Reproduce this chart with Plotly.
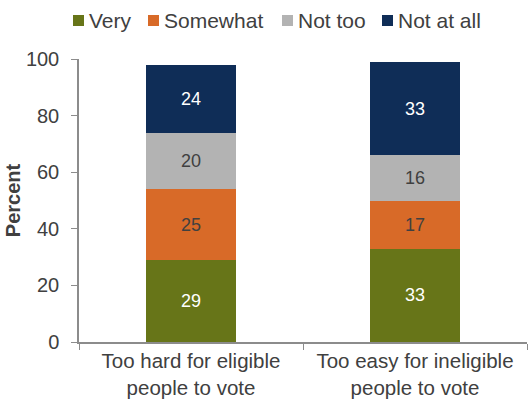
import plotly.graph_objects as go

categories = ["Too hard for eligible<br>people to vote", "Too easy for ineligible<br>people to vote"]
series_names = ["Very", "Somewhat", "Not too", "Not at all"]
very = [29, 33]
somewhat = [25, 17]
not_too = [20, 16]
not_at_all = [24, 33]

colors = ["#677518", "#D86A28", "#B3B3B3", "#0F2D57"]
label_colors = ["#FFFFFF", "#404040", "#404040", "#FFFFFF"]
FONT = "Liberation Sans, Arial"

W, H = 528, 400
ML, MR, MT, MB = 79, 1, 59, 58
PW, PH = W - ML - MR, H - MT - MB


def px_x(x):
    return (x - ML) / PW


def px_y(y):
    return (H - MB - y) / PH


fig = go.Figure()
for name, vals, col, tcol in zip(series_names, [very, somewhat, not_too, not_at_all], colors, label_colors):
    fig.add_trace(go.Bar(
        x=categories, y=vals, name=name,
        marker=dict(color=col, line=dict(width=0)),
        width=0.4,
        text=[str(v) for v in vals], textposition="inside", insidetextanchor="middle",
        textfont=dict(family=FONT, size=18, color=tcol),
    ))

# Compact one-row legend across the top: colour square + label
legend_left = [73, 148, 282, 382]
for name, col, x0 in zip(series_names, colors, legend_left):
    fig.add_shape(type="rect", xref="paper", yref="paper",
                  x0=px_x(x0), x1=px_x(x0 + 11), y0=px_y(26), y1=px_y(15),
                  fillcolor=col, line=dict(width=0))
    fig.add_annotation(xref="paper", yref="paper", x=px_x(x0 + 14), y=px_y(20.5),
                       xanchor="left", yanchor="middle", showarrow=False,
                       text=name, font=dict(family=FONT, size=21, color="#404040"))

fig.update_layout(
    barmode="stack",
    width=W, height=H,
    margin=dict(l=ML, r=MR, t=MT, b=MB),
    paper_bgcolor="white", plot_bgcolor="white",
    font=dict(family=FONT, size=20, color="#404040"),
    showlegend=False,
    uniformtext=dict(mode="show", minsize=10),
)
fig.update_xaxes(
    showline=True, linecolor="#8C8C8C", linewidth=1.5,
    ticks="outside", tickson="boundaries", ticklen=6, tickcolor="#8C8C8C",
    tickfont=dict(size=20.5, color="#404040"), showgrid=False,
)
fig.update_yaxes(
    range=[0, 100], dtick=20, showline=True, linecolor="#8C8C8C", linewidth=1.5,
    ticks="outside", ticklen=6, tickcolor="#8C8C8C", showgrid=False, zeroline=False,
    tickfont=dict(size=20, color="#404040"), ticklabelstandoff=8,
    title=dict(text="<b>Percent</b>", font=dict(size=20, color="#404040"), standoff=0),
)

fig.write_html("out.html")
